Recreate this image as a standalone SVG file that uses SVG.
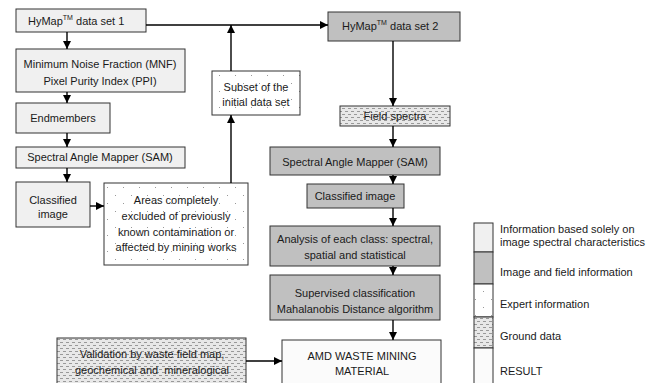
<svg xmlns="http://www.w3.org/2000/svg" width="647" height="383" viewBox="0 0 647 383">
<defs>
<marker id="ah" markerUnits="userSpaceOnUse" markerWidth="8" markerHeight="8" viewBox="0 0 8 8" refX="8" refY="4" orient="auto">
<path d="M0,0 L8,4 L0,8 Z" fill="#000"/>
</marker>
<pattern id="dots" width="16" height="16" patternUnits="userSpaceOnUse">
<rect width="16" height="16" fill="#fff"/>
<rect x="3" y="3" width="1" height="1" fill="#999"/>
<rect x="11" y="11" width="1" height="1" fill="#999"/>
</pattern>
<pattern id="dash" width="6" height="6" patternUnits="userSpaceOnUse">
<rect width="6" height="6" fill="#e8e8e8"/>
<rect x="0" y="0" width="3" height="1" fill="#999"/>
<rect x="3" y="3" width="3" height="1" fill="#999"/>
</pattern>
<style>
.light{fill:#f0f0f0;stroke:#333;stroke-width:1}
.dark{fill:#c0c0c0;stroke:#333;stroke-width:1}
.expert{fill:url(#dots);stroke:#333;stroke-width:1}
.ground{fill:url(#dash);stroke:#333;stroke-width:1}
.result{fill:#fbfbfb;stroke:#333;stroke-width:1}
text{font-family:"Liberation Sans",Arial,sans-serif;font-size:11px;fill:#1a1a1a}
.c{text-anchor:middle}
.sup{font-size:7px}
.conn line{stroke:#000;stroke-width:1.4;fill:none;marker-end:url(#ah)}
</style>
</defs>

<g id="hymap1">
<rect class="light" x="16" y="9" width="130" height="23"/>
<text x="28" y="25">HyMap<tspan class="sup" dy="-5">TM</tspan><tspan dy="5"> data set 1</tspan></text>
</g>
<g id="mnf">
<rect class="light" x="16" y="49" width="169" height="43"/>
<text class="c" x="100" y="68">Minimum Noise Fraction (MNF)</text>
<text class="c" x="100" y="85">Pixel Purity Index (PPI)</text>
</g>
<g id="endmembers">
<rect class="light" x="16" y="103" width="94" height="30"/>
<text class="c" x="63" y="122">Endmembers</text>
</g>
<g id="sam1">
<rect class="light" x="16" y="147" width="169" height="21"/>
<text class="c" x="100" y="161">Spectral Angle Mapper (SAM)</text>
</g>
<g id="classified1">
<rect class="light" x="16" y="182" width="74" height="45"/>
<text class="c" x="53" y="204">Classified</text>
<text class="c" x="53" y="218">image</text>
</g>
<g id="areas">
<rect class="expert" x="104" y="183" width="144" height="82"/>
<text class="c" x="176" y="204">Areas completely</text>
<text class="c" x="176" y="220">excluded of previously</text>
<text class="c" x="176" y="236">known contamination or</text>
<text class="c" x="176" y="251">affected by mining works</text>
</g>
<g id="subset">
<rect class="expert" x="212" y="71" width="88" height="44"/>
<text class="c" x="256" y="91">Subset of the</text>
<text class="c" x="256" y="106">initial data set</text>
</g>
<g id="hymap2">
<rect class="dark" x="328" y="12" width="132" height="29"/>
<text x="342" y="30">HyMap<tspan class="sup" dy="-5">TM</tspan><tspan dy="5"> data set 2</tspan></text>
</g>
<g id="field">
<rect class="ground" x="340" y="106" width="110" height="20"/>
<text class="c" x="395" y="120">Field spectra</text>
</g>
<g id="sam2">
<rect class="dark" x="270" y="147" width="170" height="28"/>
<text class="c" x="355" y="166">Spectral Angle Mapper (SAM)</text>
</g>
<g id="classified2">
<rect class="dark" x="307" y="184" width="97" height="24"/>
<text class="c" x="355" y="200">Classified image</text>
</g>
<g id="analysis">
<rect class="dark" x="270" y="226" width="170" height="40"/>
<text class="c" x="355" y="243">Analysis of each class: spectral,</text>
<text class="c" x="355" y="259">spatial and statistical</text>
</g>
<g id="supervised">
<rect class="dark" x="270" y="275" width="170" height="45"/>
<text class="c" x="355" y="297">Supervised classification</text>
<text class="c" x="355" y="313">Mahalanobis Distance algorithm</text>
</g>
<g id="amd">
<rect class="result" x="282" y="340" width="159" height="60"/>
<text class="c" x="362" y="360">AMD WASTE MINING</text>
<text class="c" x="362" y="375">MATERIAL</text>
</g>
<g id="validation">
<rect class="ground" x="57" y="338" width="189" height="60"/>
<text class="c" x="152" y="358">Validation by waste field map,</text>
<text class="c" x="152" y="374" xml:space="preserve">geochemical and  mineralogical</text>
</g>

<g id="legend">
<rect class="light" x="474" y="223" width="19" height="29"/>
<rect class="dark" x="474" y="252" width="19" height="32"/>
<rect class="expert" x="474" y="284" width="19" height="33"/>
<rect class="ground" x="474" y="317" width="19" height="31"/>
<rect class="result" x="474" y="348" width="19" height="40"/>
<text x="500" y="233">Information based solely on</text>
<text x="500" y="246">image spectral characteristics</text>
<text x="500" y="276">Image and field information</text>
<text x="500" y="308">Expert information</text>
<text x="500" y="340">Ground data</text>
<text x="500" y="375">RESULT</text>
</g>

<g id="connectors" class="conn">
<line x1="146" y1="25" x2="328" y2="25"/>
<line x1="67" y1="32" x2="67" y2="49"/>
<line x1="67" y1="92" x2="67" y2="103"/>
<line x1="67" y1="133" x2="67" y2="147"/>
<line x1="67" y1="168" x2="67" y2="182"/>
<line x1="90" y1="206" x2="104" y2="206"/>
<line x1="231" y1="183" x2="231" y2="115"/>
<line x1="231" y1="71" x2="231" y2="25"/>
<line x1="393" y1="41" x2="393" y2="106"/>
<line x1="393" y1="126" x2="393" y2="147"/>
<line x1="393" y1="175" x2="393" y2="184"/>
<line x1="393" y1="208" x2="393" y2="226"/>
<line x1="393" y1="266" x2="393" y2="275"/>
<line x1="393" y1="320" x2="393" y2="340"/>
<line x1="246" y1="361" x2="282" y2="361"/>
</g>
</svg>
